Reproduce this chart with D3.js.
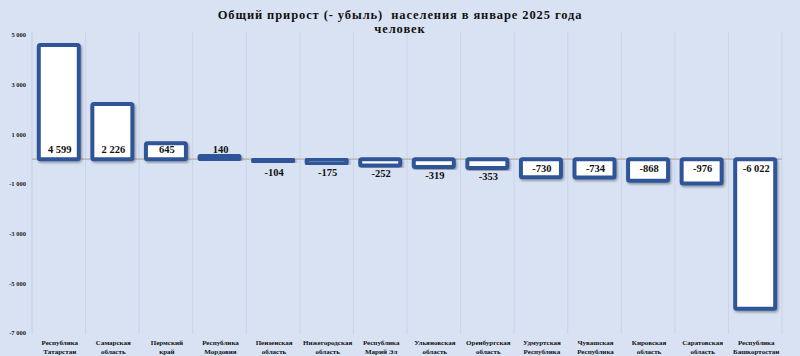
<!DOCTYPE html>
<html><head><meta charset="utf-8">
<script src="https://cdn.jsdelivr.net/npm/d3@7"></script>
<style>
html,body{margin:0;padding:0;background:#d9e2f3;}
svg{display:block;}
</style></head>
<body>
<svg id="c" width="800" height="356"></svg>
<script>
const categories = [
  ["Республика","Татарстан"],
  ["Самарская","область"],
  ["Пермский","край"],
  ["Республика","Мордовия"],
  ["Пензенская","область"],
  ["Нижегородская","область"],
  ["Республика","Марий Эл"],
  ["Ульяновская","область"],
  ["Оренбургская","область"],
  ["Удмуртская","Республика"],
  ["Чувашская","Республика"],
  ["Кировская","область"],
  ["Саратовская","область"],
  ["Республика","Башкортостан"]
];
const values = [4599, 2226, 645, 140, -104, -175, -252, -319, -353, -730, -734, -868, -976, -6022];
const valueLabels = ["4 599","2 226","645","140","-104","-175","-252","-319","-353","-730","-734","-868","-976","-6 022"];
const yTicks = [5000, 3000, 1000, -1000, -3000, -5000, -7000];
const yTickLabels = ["5 000","3 000","1 000","-1 000","-3 000","-5 000","-7 000"];
const titleLines = ["Общий прирост (- убыль)  населения в январе 2025 года", "человек"];

(function(){
const svg = d3.select("#c");
const W = 800, H = 356;
const pLeft = 32, pRight = 782, pTop = 32, pBottom = 334;
const serif = "'Liberation Serif', 'Times New Roman', serif";

svg.append("rect").attr("width", W).attr("height", H).attr("fill", "#d9e2f3");

const defs = svg.append("defs");
const f = defs.append("filter").attr("id","sh").attr("x","-20%").attr("y","-20%").attr("width","150%").attr("height","150%");
f.append("feDropShadow").attr("dx",1.2).attr("dy",1.6).attr("stdDeviation",1).attr("flood-color","#000").attr("flood-opacity",0.35);

const x = d3.scaleBand().domain(d3.range(categories.length)).range([pLeft, pRight]).paddingInner(0).paddingOuter(0);
const y = d3.scaleLinear().domain([-7000, 5000]).range([333, 35]);

const bounds = d3.range(categories.length + 1).map(i => i === categories.length ? pRight : x(i));
svg.append("g").selectAll("line").data(bounds).join("line")
  .attr("x1", d => d).attr("x2", d => d)
  .attr("y1", pTop).attr("y2", pBottom)
  .attr("stroke", d => d === pLeft ? "#c4cde0" : "#cbd4e6").attr("stroke-width", 1);

svg.append("line").attr("x1", pLeft).attr("x2", pRight).attr("y1", y(0)).attr("y2", y(0))
  .attr("stroke", "#b5aca3").attr("stroke-width", 1.2);

svg.append("g").selectAll("text").data(yTicks).join("text")
  .attr("x", 26).attr("y", d => y(d)).attr("dy", "0.35em")
  .attr("text-anchor", "end")
  .attr("font-family", serif)
  .attr("font-weight", "bold").attr("font-size", 6.5).attr("fill", "#222")
  .text((d, i) => yTickLabels[i]);

const bw = 40;
svg.append("g").selectAll("rect").data(values).join("rect")
  .attr("x", (d, i) => x(i) + x.bandwidth() / 2 - bw / 2)
  .attr("y", d => Math.min(y(d), y(0)))
  .attr("width", bw)
  .attr("height", d => Math.abs(y(d) - y(0)))
  .attr("rx", 1.5)
  .attr("fill", "#ffffff")
  .attr("stroke", "#2f5597")
  .attr("stroke-width", 4)
  .attr("filter", "url(#sh)");

svg.append("g").selectAll("text").data(values).join("text")
  .attr("x", (d, i) => x(i) + x.bandwidth() / 2 + 1)
  .attr("y", d => {
    if (d > 0) return y(0) - 10;
    const end = y(d);
    if (Math.abs(d) >= 500) return y(0) + 9;
    return Math.max(y(0) + 13, end + 8);
  })
  .attr("dy", "0.35em")
  .attr("text-anchor", "middle")
  .attr("font-family", serif)
  .attr("font-weight", "bold").attr("font-size", 10.5).attr("fill", "#111")
  .text((d, i) => valueLabels[i]);

const cg = svg.append("g").selectAll("text").data(categories).join("text")
  .attr("x", (d, i) => x(i) + x.bandwidth() / 2 + 1)
  .attr("y", 343)
  .attr("text-anchor", "middle")
  .attr("font-family", serif)
  .attr("font-weight", "bold").attr("font-size", 7).attr("fill", "#111");
cg.selectAll("tspan").data(d => d).join("tspan")
  .attr("x", function() { return d3.select(this.parentNode).attr("x"); })
  .attr("dy", (d, i) => i === 0 ? "0.35em" : "1.25em")
  .text(d => d);

svg.append("g").selectAll("text").data(titleLines).join("text")
  .attr("x", 400).attr("y", (d, i) => 15 + i * 14)
  .attr("dy", "0.32em")
  .attr("text-anchor", "middle")
  .attr("font-family", serif)
  .attr("font-weight", "bold").attr("font-size", 12.5).attr("letter-spacing", 0.9)
  .attr("fill", "#111")
  .style("white-space", "pre")
  .text(d => d);
})();
</script>
</body></html>
